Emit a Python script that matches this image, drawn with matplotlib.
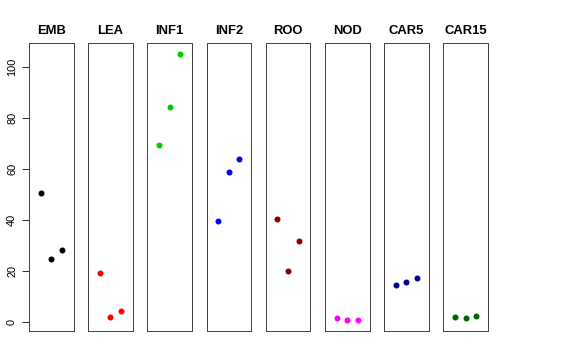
import numpy as np
import matplotlib
matplotlib.use("Agg")
import matplotlib.pyplot as plt

plt.rcParams['font.family'] = ['Liberation Sans', 'DejaVu Sans']

groups = ['EMB', 'LEA', 'INF1', 'INF2', 'ROO', 'NOD', 'CAR5', 'CAR15']
colors = ['black', 'red', '#00CD00', 'blue', '#8B0000', 'magenta', '#00008B', '#006400']
emb = [50.5, 24.4, 28.2]
lea = [18.9, 1.7, 4.2]
inf1 = [69.2, 84.4, 105.1]
inf2 = [39.6, 58.8, 63.8]
roo = [40.3, 19.8, 31.6]
nod = [1.5, 0.5, 0.7]
car5 = [14.2, 15.4, 17.3]
car15 = [1.9, 1.3, 2.4]
values = [emb, lea, inf1, inf2, roo, nod, car5, car15]

W, H = 576, 360
fig = plt.figure(figsize=(W / 72, H / 72), dpi=72)

allv = np.concatenate(values)
lo, hi = allv.min(), allv.max()
r = hi - lo
ylim = (lo - 0.04 * r, hi + 0.04 * r)

top, bottom = 43.3, 331
for i, (g, v, c) in enumerate(zip(groups, values, colors)):
    left = 29 + 59.2 * i
    ax = fig.add_axes([left / W, (H - bottom) / H, 44.5 / W, (bottom - top) / H])
    ax.plot([1, 2, 3], v, 'o', color=c, markersize=6, markeredgewidth=0)
    ax.set_xlim(-0.1, 4.1)
    ax.set_ylim(*ylim)
    ax.set_xticks([])
    for s in ax.spines.values():
        s.set_color('#444444')
        s.set_linewidth(1)
    ax.set_title(g, fontsize=13, fontweight='bold', pad=9)
    if i == 0:
        ax.set_yticks([0, 20, 40, 60, 80, 100])
        ax.tick_params(axis='y', length=7, width=0.8, labelsize=11, pad=5)
        for t in ax.get_yticklabels():
            t.set_rotation(90)
            t.set_va('center')
    else:
        ax.set_yticks([])

fig.savefig('out.png', dpi=72)
